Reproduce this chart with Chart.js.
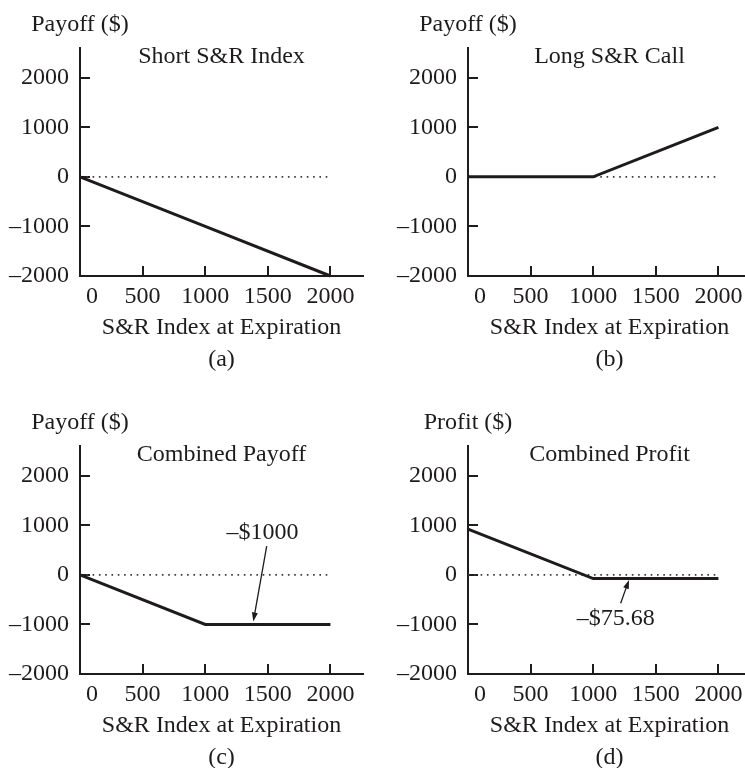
<!DOCTYPE html>
<html lang="en">
<head>
<meta charset="UTF-8">
<title>S&amp;R Index payoff and profit diagrams</title>
<script src="https://cdn.jsdelivr.net/npm/chart.js"></script>
<style>
  body { margin: 0; background: #fff; }
  #page { position: relative; width: 745px; height: 768px; overflow: hidden; }
  canvas { position: absolute; }
  #chartA { left: 0; top: 0; }
  #chartB { left: 388px; top: 0; }
  #chartC { left: 0; top: 398px; }
  #chartD { left: 388px; top: 398px; }
</style>
</head>
<body>
<div id="page">
  <canvas id="chartA" width="372" height="384"></canvas>
  <canvas id="chartB" width="372" height="384"></canvas>
  <canvas id="chartC" width="372" height="384"></canvas>
  <canvas id="chartD" width="372" height="384"></canvas>
</div>

<script>
// index level at expiration where the payoff lines bend
const indexLevels = [0, 1000, 2000];
const shortIndex = [0, -1000, -2000];
const longCall = [0, 0, 1000];
const combinedPayoff = [0, -1000, -1000];
const combinedProfit = [924.32, -75.68, -75.68];

// dotted zero line runs from the axis to about here
const zeroLineEnds = [0, 1980];

const xTicks = [0, 500, 1000, 1500, 2000];
const yTicks = [-2000, -1000, 0, 1000, 2000];

// arrow callouts, in data units
const noteC = { text: '–$1000', label: [1458, 841], tail: [1491, 579], head: [1384, -940] };
const noteD = { text: '–$75.68', label: [1179, -894], tail: [1219, -571], head: [1286, -101] };

const ink = '#1e1b1c';
const fontFamily = '"Liberation Serif", "Times New Roman", serif';
Chart.defaults.font.family = fontFamily;
Chart.defaults.font.size = 24;
Chart.defaults.color = ink;

// y label above the axis, panel title inside the plot, arrow callout
const panelText = {
    id: 'panelText',
    afterDraw(chart, args, opts) {
        const ctx = chart.ctx;
        const a = chart.chartArea;
        const sx = chart.scales.x, sy = chart.scales.y;
        ctx.save();
        ctx.fillStyle = ink;
        ctx.strokeStyle = ink;
        ctx.font = '24px ' + fontFamily;
        ctx.textAlign = 'center';
        ctx.textBaseline = 'alphabetic';
        ctx.fillText(opts.yLabel, a.left, a.top - 17);
        ctx.fillText(opts.title, (a.left + a.right) / 2, a.top + 14.5);

        const n = opts.note;
        if (n) {
            ctx.textBaseline = 'middle';
            ctx.fillText(n.text, sx.getPixelForValue(n.label[0]), sy.getPixelForValue(n.label[1]));
            const x1 = sx.getPixelForValue(n.tail[0]), y1 = sy.getPixelForValue(n.tail[1]);
            const x2 = sx.getPixelForValue(n.head[0]), y2 = sy.getPixelForValue(n.head[1]);
            const ang = Math.atan2(y2 - y1, x2 - x1);
            const len = 9, half = 3;
            const c = Math.cos(ang), s = Math.sin(ang);
            ctx.lineWidth = 1.3;
            ctx.beginPath();
            ctx.moveTo(x1, y1);
            ctx.lineTo(x2 - len * 0.8 * c, y2 - len * 0.8 * s);
            ctx.stroke();
            ctx.beginPath();
            ctx.moveTo(x2, y2);
            ctx.lineTo(x2 - len * c + half * s, y2 - len * s - half * c);
            ctx.lineTo(x2 - len * c - half * s, y2 - len * s + half * c);
            ctx.closePath();
            ctx.fill();
        }
        ctx.restore();
    }
};

function drawPanel(id, yLabel, title, caption, values, note) {
    const points = indexLevels.map((x, i) => ({ x: x, y: values[i] }));
    const zero = zeroLineEnds.map(x => ({ x: x, y: 0 }));

    new Chart(document.getElementById(id), {
        type: 'line',
        data: {
            datasets: [
                { data: points, borderColor: ink, borderWidth: 3, pointRadius: 0, clip: false },
                { data: zero, borderColor: '#3a3a3a', borderWidth: 1.6, borderDash: [1.6, 4.7], pointRadius: 0 }
            ]
        },
        options: {
            responsive: false,
            animation: false,
            events: [],
            layout: { padding: { top: 48, right: 9, left: 0, bottom: 0 } },
            plugins: {
                legend: { display: false },
                tooltip: { enabled: false },
                panelText: { yLabel: yLabel, title: title, note: note }
            },
            scales: {
                x: {
                    type: 'linear',
                    min: 0,
                    max: 2260,
                    afterFit: s => { s.height = 108; },
                    afterBuildTicks: s => { s.ticks = xTicks.map(v => ({ value: v })); },
                    grid: { drawOnChartArea: false, tickLength: -10, lineWidth: 2, color: ink },
                    border: { color: ink, width: 2 },
                    ticks: {
                        padding: 16,
                        maxRotation: 0,
                        autoSkip: false,
                        callback: v => v === 0 ? '    0' : String(v)
                    },
                    title: {
                        display: true,
                        text: ['S&R Index at Expiration', caption],
                        font: { size: 24, lineHeight: 1.333 },
                        padding: { top: 0, bottom: 8 }
                    }
                },
                y: {
                    min: -2000,
                    max: 2600,
                    afterFit: s => { s.width = 80; },
                    afterBuildTicks: s => { s.ticks = yTicks.map(v => ({ value: v })); },
                    grid: { drawOnChartArea: false, tickLength: -10, lineWidth: 2, color: ink },
                    border: { color: ink, width: 2 },
                    ticks: {
                        padding: 21,
                        callback: v => v < 0 ? '–' + (-v) : String(v)
                    }
                }
            }
        },
        plugins: [panelText]
    });
}

drawPanel('chartA', 'Payoff ($)', 'Short S&R Index', '(a)', shortIndex, null);
drawPanel('chartB', 'Payoff ($)', 'Long S&R Call', '(b)', longCall, null);
drawPanel('chartC', 'Payoff ($)', 'Combined Payoff', '(c)', combinedPayoff, noteC);
drawPanel('chartD', 'Profit ($)', 'Combined Profit', '(d)', combinedProfit, noteD);
</script>
</body>
</html>
